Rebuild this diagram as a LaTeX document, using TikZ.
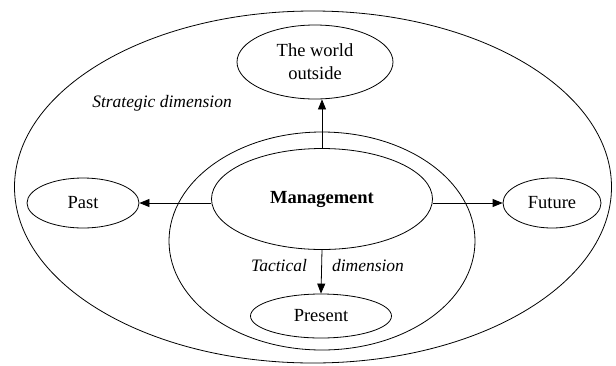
\documentclass[tikz,border=0pt]{standalone}
\usepackage{fontspec}
\setmainfont{Liberation Serif}
\usetikzlibrary{shapes.geometric,arrows.meta}
\begin{document}
\begin{tikzpicture}[x=1pt,y=-1pt,
  ell/.style={ellipse,draw,line width=0.8pt,inner sep=0pt},
  lbl/.style={font=\fontsize{18.5}{23}\selectfont},
  ilbl/.style={font=\fontsize{17.5}{21}\selectfont\itshape},
  arr/.style={-{Triangle[length=10pt,width=8pt]},line width=0.8pt}]
\useasboundingbox (0,0) rectangle (616,365);
\node[ell,minimum width=597,minimum height=352] (outer) at (313,187) {};
\node[ell,minimum width=306,minimum height=218] (tact) at (322,241) {};
\node[ell,lbl,minimum width=221,minimum height=101] (mgmt) at (322,199) {\textbf{Management}};
\node[ell,lbl,minimum width=156,minimum height=74,align=center] (world) at (315,62) {The world\\outside};
\node[ell,lbl,minimum width=112,minimum height=50] (past) at (83,203) {Past};
\node[ell,lbl,minimum width=98,minimum height=50] (future) at (552,203) {Future};
\node[ell,lbl,minimum width=141,minimum height=44] (present) at (321,316) {Present};
\node[ilbl] (strat) at (162,103) {Strategic dimension};
\node[ilbl] (tac) at (279,266) {Tactical};
\node[ilbl] (dim) at (368,266) {dimension};
\draw[arr] (mgmt.north) -- (mgmt.north |- world.south);
\draw[arr] (mgmt.south) -- (present.north);
\draw[arr] (mgmt.west |- past.east) -- (past.east);
\draw[arr] (mgmt.east |- future.west) -- (future.west);
\end{tikzpicture}
\end{document}
